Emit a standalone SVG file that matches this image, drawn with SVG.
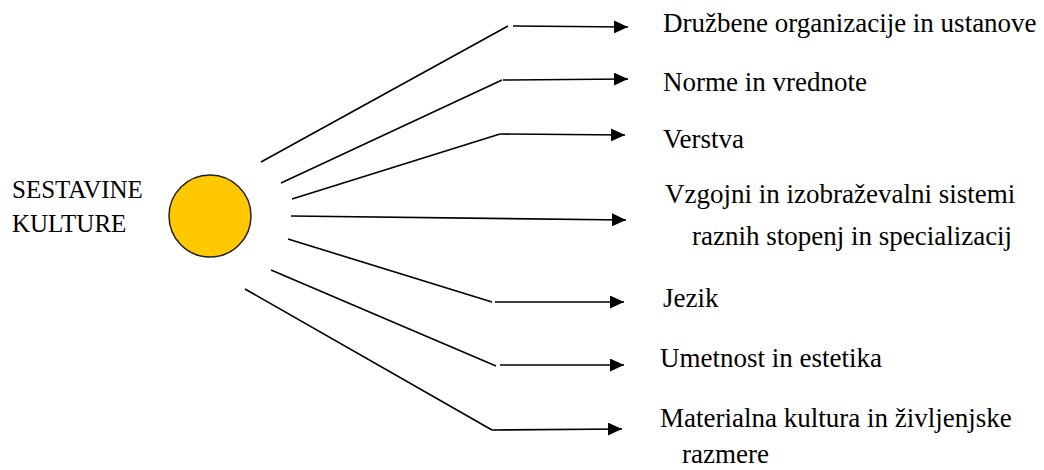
<svg xmlns="http://www.w3.org/2000/svg" width="1044" height="470" viewBox="0 0 1044 470">
<defs>
<marker id="ah" markerUnits="userSpaceOnUse" markerWidth="14" markerHeight="13" refX="14" refY="6.5" orient="auto">
<path d="M0,0 L14,6.5 L0,13 Z" fill="#000"/>
</marker>
</defs>
<rect width="1044" height="470" fill="#fff"/>
<g id="center">
<circle cx="210" cy="216" r="41" fill="#FFC800" stroke="#222" stroke-width="1.5"/>
<text x="12" y="198" font-family="Liberation Serif" font-size="25">SESTAVINE</text>
<text x="12" y="232" font-family="Liberation Serif" font-size="25">KULTURE</text>
</g>
<g id="connectors" stroke="#000" stroke-width="1.6" fill="none">
<line x1="261" y1="162" x2="508" y2="26"/>
<line x1="513" y1="26" x2="628" y2="27" marker-end="url(#ah)"/>
<line x1="281" y1="183" x2="502" y2="80"/>
<line x1="503" y1="80" x2="628" y2="79" marker-end="url(#ah)"/>
<line x1="292" y1="199" x2="500" y2="134"/>
<line x1="500" y1="134" x2="625" y2="135" marker-end="url(#ah)"/>
<line x1="291" y1="216" x2="626" y2="220" marker-end="url(#ah)"/>
<line x1="288" y1="239" x2="492" y2="302"/>
<line x1="495" y1="302" x2="624" y2="302" marker-end="url(#ah)"/>
<line x1="271" y1="270" x2="496" y2="366"/>
<line x1="500" y1="365" x2="624" y2="365" marker-end="url(#ah)"/>
<line x1="245" y1="289" x2="492" y2="430"/>
<line x1="492" y1="430" x2="622" y2="429" marker-end="url(#ah)"/>
</g>
<g id="n1"><text x="663" y="32" font-family="Liberation Serif" font-size="27">Družbene organizacije in ustanove</text></g>
<g id="n2"><text x="663" y="91" font-family="Liberation Serif" font-size="27">Norme in vrednote</text></g>
<g id="n3"><text x="663" y="148" font-family="Liberation Serif" font-size="27">Verstva</text></g>
<g id="n4"><text x="665" y="203" font-family="Liberation Serif" font-size="27">Vzgojni in izobraževalni sistemi</text><text x="692" y="245" font-family="Liberation Serif" font-size="27">raznih stopenj in specializacij</text></g>
<g id="n5"><text x="663" y="307" font-family="Liberation Serif" font-size="27">Jezik</text></g>
<g id="n6"><text x="660" y="367" font-family="Liberation Serif" font-size="27">Umetnost in estetika</text></g>
<g id="n7"><text x="660" y="427" font-family="Liberation Serif" font-size="27">Materialna kultura in življenjske</text><text x="682" y="463" font-family="Liberation Serif" font-size="27">razmere</text></g>
</svg>
